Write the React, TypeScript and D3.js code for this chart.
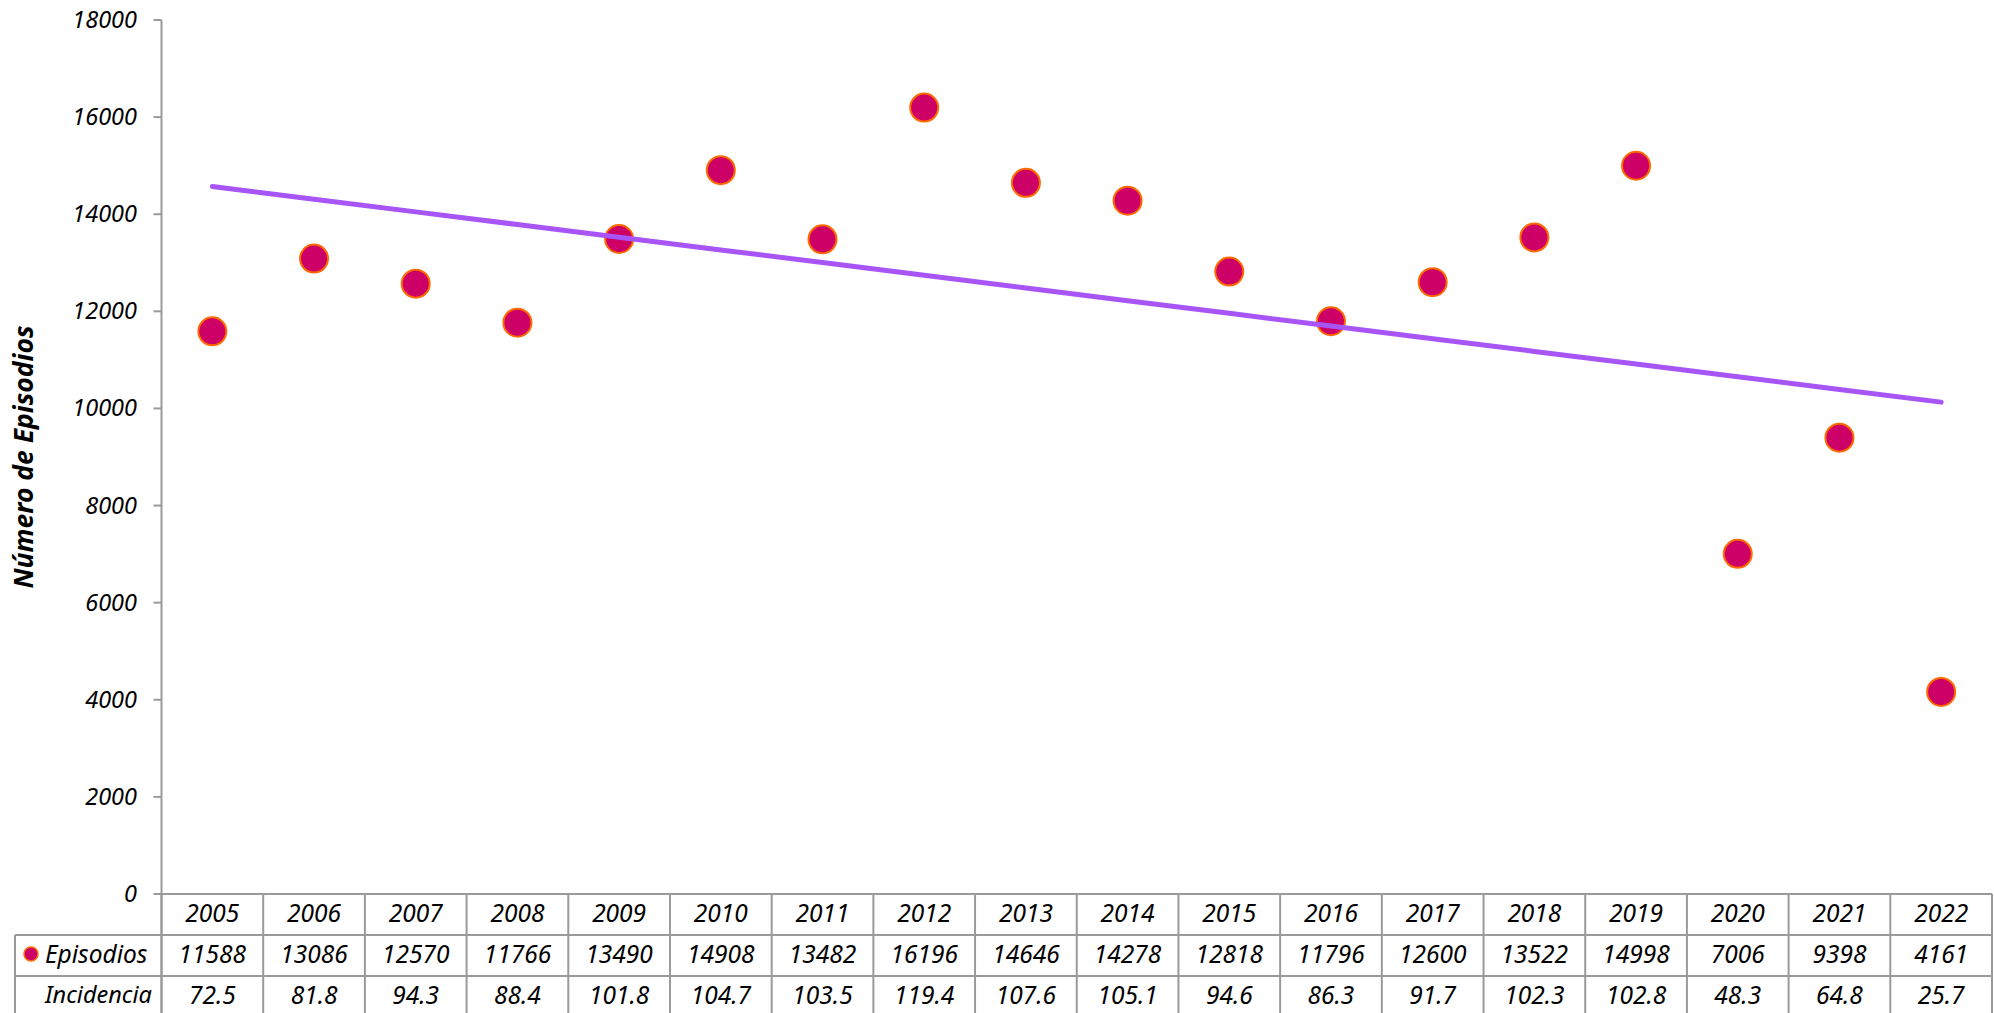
import { useMemo } from "react";
import * as d3 from "d3";

const years = ["2005", "2006", "2007", "2008", "2009", "2010", "2011", "2012", "2013", "2014", "2015", "2016", "2017", "2018", "2019", "2020", "2021", "2022"];
const episodios = [11588, 13086, 12570, 11766, 13490, 14908, 13482, 16196, 14646, 14278, 12818, 11796, 12600, 13522, 14998, 7006, 9398, 4161];
const incidencia = ["72.5", "81.8", "94.3", "88.4", "101.8", "104.7", "103.5", "119.4", "107.6", "105.1", "94.6", "86.3", "91.7", "102.3", "102.8", "48.3", "64.8", "25.7"];
const yTicks = [0, 2000, 4000, 6000, 8000, 10000, 12000, 14000, 16000, 18000];

const WIDTH = 1994;
const HEIGHT = 1013;
const MARGIN = { top: 20, left: 161.5, right: 1992, bottom: 894 };
const ROW_H = 41;
const TABLE_LEFT = 15;
const FONT = "'Noto Sans', 'Open Sans', sans-serif";
const GRID = "#9a9a9a";
const TXT = 24.5;

export default function App() {
  const xScale = useMemo(
    () => d3.scaleBand().domain(years).range([MARGIN.left, MARGIN.right]),
    []
  );
  const yScale = useMemo(
    () => d3.scaleLinear().domain([0, 18000]).range([MARGIN.bottom, MARGIN.top]),
    []
  );

  // linear trend (least squares), like the spreadsheet trendline
  const trend = useMemo(() => {
    const xs = episodios.map((_, i) => i);
    const mx = d3.mean(xs)!;
    const my = d3.mean(episodios)!;
    const slope =
      d3.sum(xs, (x, i) => (x - mx) * (episodios[i] - my)) /
      d3.sum(xs, (x) => (x - mx) * (x - mx));
    const icpt = my - slope * mx;
    return years.map((y, i) => ({ year: y, value: icpt + slope * i }));
  }, []);

  const cx = (y: string) => xScale(y)! + xScale.bandwidth() / 2;

  const line = d3
    .line<{ year: string; value: number }>()
    .x((d) => cx(d.year))
    .y((d) => yScale(d.value));

  const row1 = MARGIN.bottom;
  const row2 = row1 + ROW_H;
  const row3 = row2 + ROW_H;
  const row4 = row3 + ROW_H;
  const bounds = [...years.map((y) => xScale(y)!), MARGIN.right];
  const mid = (r: number) => r + ROW_H / 2 - 2.5;

  return (
    <div style={{ position: "absolute", left: 0, top: 0 }}>
      <svg width={WIDTH} height={HEIGHT} style={{ display: "block", background: "#fff" }} fontFamily={FONT}>
        {/* y axis */}
        <line x1={MARGIN.left} x2={MARGIN.left} y1={MARGIN.top} y2={row4} stroke={GRID} strokeWidth={2} />
        {yTicks.map((t) => (
          <g key={t}>
            <line x1={MARGIN.left - 8} x2={MARGIN.left} y1={yScale(t)} y2={yScale(t)} stroke={GRID} strokeWidth={2} />
            <text
              x={137}
              y={yScale(t) - 1}
              textAnchor="end"
              dominantBaseline="central"
              fontSize={23.5}
              fontStyle="italic"
              fill="#000"
            >
              {t}
            </text>
          </g>
        ))}
        <text
          transform={`translate(23, 457) rotate(-90)`}
          textAnchor="middle"
          dominantBaseline="central"
          fontSize={26.5}
          fontWeight="bold"
          fontStyle="italic"
          fill="#000"
        >
          Número de Episodios
        </text>

        {/* data table */}
        <line x1={MARGIN.left} x2={MARGIN.right} y1={row1} y2={row1} stroke={GRID} strokeWidth={2} />
        <line x1={TABLE_LEFT} x2={MARGIN.right} y1={row2} y2={row2} stroke={GRID} strokeWidth={2} />
        <line x1={TABLE_LEFT} x2={MARGIN.right} y1={row3} y2={row3} stroke={GRID} strokeWidth={2} />
        <line x1={TABLE_LEFT} x2={MARGIN.right} y1={row4} y2={row4} stroke={GRID} strokeWidth={2} />
        <line x1={TABLE_LEFT} x2={TABLE_LEFT} y1={row2} y2={row4} stroke={GRID} strokeWidth={2} />
        {bounds.map((b, i) => (
          <line key={i} x1={b} x2={b} y1={row1} y2={row4} stroke={GRID} strokeWidth={2} />
        ))}
        {years.map((y, i) => (
          <g key={y} fontSize={TXT} fontStyle="italic" fill="#000" textAnchor="middle">
            <text x={cx(y)} y={mid(row1)} dominantBaseline="central">{y}</text>
            <text x={cx(y)} y={mid(row2)} dominantBaseline="central">{episodios[i]}</text>
            <text x={cx(y)} y={mid(row3)} dominantBaseline="central">{incidencia[i]}</text>
          </g>
        ))}
        <circle cx={31} cy={mid(row2) + 1} r={7} fill="#cc0066" stroke="#ff6a00" strokeWidth={1.5} />
        <text x={45} y={mid(row2)} dominantBaseline="central" fontSize={TXT} fontStyle="italic" fill="#000">
          Episodios
        </text>
        <text x={45} y={mid(row3)} dominantBaseline="central" fontSize={23.5} fontStyle="italic" fill="#000">
          Incidencia
        </text>

        {/* points */}
        {years.map((y, i) => (
          <circle key={y} cx={cx(y)} cy={yScale(episodios[i])} r={14} fill="#cc0066" stroke="#ff6a00" strokeWidth={2} />
        ))}

        {/* trend line */}
        <path d={line(trend) ?? ""} fill="none" stroke="#a855f7" strokeWidth={5} strokeLinecap="round" />
      </svg>
    </div>
  );
}
